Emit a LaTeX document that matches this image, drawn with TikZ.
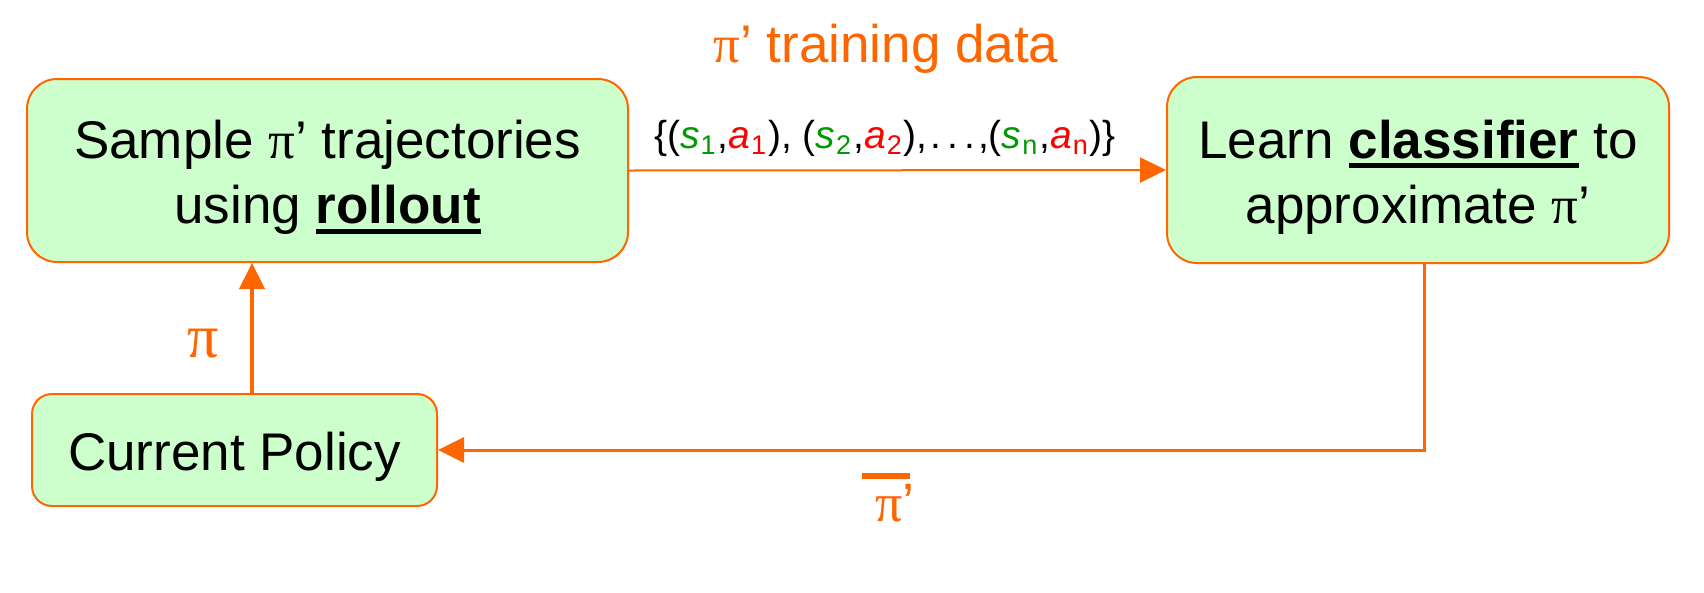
\documentclass[tikz,border=0pt]{standalone}
\usepackage{fontspec}
\setmainfont{Liberation Sans}
\newfontfamily\grk{Liberation Serif}
\usetikzlibrary{arrows.meta}
\definecolor{org}{HTML}{FF6600}
\definecolor{boxfill}{HTML}{CCFFCC}
\definecolor{sgreen}{HTML}{009900}
\definecolor{ared}{HTML}{FF0000}
\newsavebox\ulbox
\newcommand\myul[1]{\sbox\ulbox{#1}\rlap{\rule[-10pt]{\wd\ulbox}{5pt}}\usebox\ulbox}
\newcommand\pip{{\grk π}’}
\newcommand\sv[1]{\textcolor{sgreen}{\textit{s}\hspace{1pt}\raisebox{-6pt}{\fontsize{27}{27}\selectfont #1}}\hspace{2pt}}
\newcommand\av[1]{\textcolor{ared}{\textit{a}\hspace{1pt}\raisebox{-6pt}{\fontsize{27}{27}\selectfont #1}}\hspace{2pt}}
\begin{document}
\begin{tikzpicture}[x=1pt,y=-1pt,
  procbox/.style={draw=org, line width=2pt, fill=boxfill, align=center,
    font=\fontsize{53}{65}\selectfont, inner sep=0pt},
  flow/.style={draw=org, -{Triangle[length=26pt,width=25pt]}},
  lab/.style={text=org, inner sep=0pt}]
\useasboundingbox[fill=white] (0,0) rectangle (1704,592);
\node[procbox, rounded corners=30pt, minimum width=601pt, minimum height=183pt] (sample) at (327.5,170.5)
  {\rule{0pt}{52pt}Sample \pip{} trajectories\\using \myul{\textbf{rollout}}};
\node[procbox, rounded corners=30pt, minimum width=502pt, minimum height=186pt] (classify) at (1418,170)
  {\rule{0pt}{52pt}Learn \myul{\textbf{classifier}} to\\approximate \pip};
\node[procbox, rounded corners=20pt, minimum width=405pt, minimum height=112pt] (policy) at (234.5,450)
  {\rule{0pt}{51pt}Current Policy};
\coordinate (vx) at (252,0);
\coordinate (rx) at (1424,0);
\draw[flow, line width=4pt] (policy.north -| vx) -- (sample.south -| vx);
\draw[flow, line width=2pt] (sample.east) -- (classify.west);
\draw[flow, line width=3pt] (classify.south -| rx) |- (policy.east);
\node[lab, anchor=base, font=\fontsize{53}{53}\selectfont] (title) at (886,62) {\pip{} training data};
\node[anchor=base, inner sep=0pt, font=\fontsize{39}{39}\selectfont] (data) at (885,148)
  {\{(\sv1,\av1), (\sv2,\av2),\hspace{3pt}.\hspace{6pt}.\hspace{6pt}.\hspace{3pt},(\sv{n},\av{n})\}};
\node[lab, font=\fontsize{62}{62}\selectfont\grk] (pilab) at (203,344) {π};
\node[lab, anchor=base west, font=\fontsize{54}{54}\selectfont] (pibar) at (875,521)
  {\rlap{\hspace{-13pt}\raisebox{42pt}{\rule{48pt}{6pt}}}{\grk π}’};
\end{tikzpicture}
\end{document}
